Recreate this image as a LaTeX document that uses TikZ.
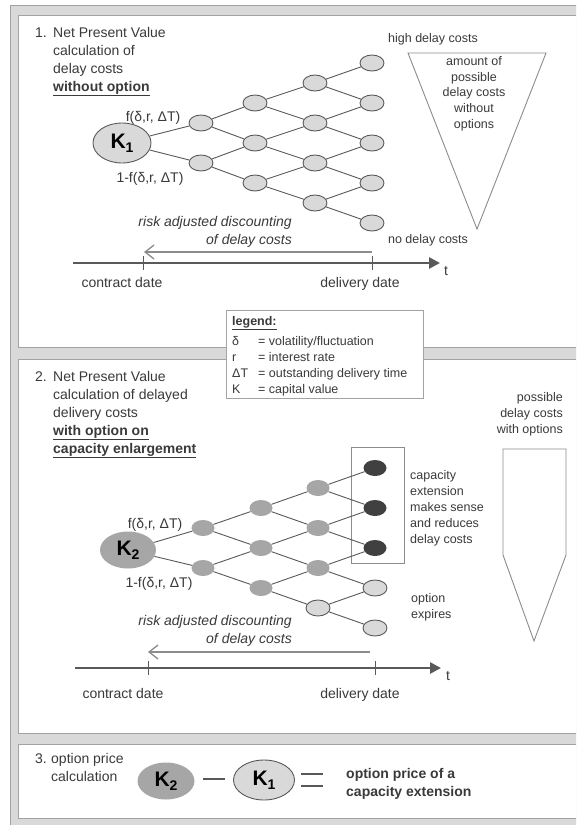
\documentclass[tikz,border=0pt]{standalone}
\usepackage{fontspec}
\setmainfont{Liberation Sans}
\usetikzlibrary{shapes.geometric,arrows.meta}
\definecolor{txtc}{HTML}{3A3A3A}
\definecolor{lineg}{HTML}{595959}
\definecolor{lightg}{HTML}{D9D9D9}
\definecolor{midg}{HTML}{A6A6A6}
\definecolor{darkg}{HTML}{404040}
\definecolor{frameg}{HTML}{D9D9D9}
\definecolor{frameb}{HTML}{A3A3A3}
\definecolor{shapeg}{HTML}{8C8C8C}
\begin{document}
\begin{tikzpicture}[x=1pt,y=-1pt,
  txt/.style={font=\fontsize{14}{17}\selectfont, text=txtc, inner sep=0pt},
  stxt/.style={font=\fontsize{12.5}{15}\selectfont, text=txtc, inner sep=0pt},
  lnode/.style={ellipse, fill=lightg, draw=lineg, line width=0.9pt, minimum width=24pt, minimum height=16pt, inner sep=0pt},
  mnode/.style={ellipse, fill=midg, draw=none, minimum width=23pt, minimum height=16pt, inner sep=0pt},
  dnode/.style={ellipse, fill=darkg, draw=none, minimum width=23pt, minimum height=16pt, inner sep=0pt},
  bigK/.style={ellipse, inner sep=0pt, text=black, font=\fontsize{21}{21}\selectfont\bfseries},
  tline/.style={draw=lineg, line width=0.9pt},
  axis/.style={draw=lineg, line width=2.6pt, -{Triangle[length=11pt,width=11pt]}},
  tick/.style={draw=lineg, line width=0.9pt},
  disc/.style={draw=shapeg, line width=1.8pt, -{Straight Barb[length=9pt,width=14pt,line width=1.3pt]}},
  outl/.style={draw=shapeg, line width=0.9pt},
  panel/.style={fill=white, draw=frameb, line width=1pt}
]
\useasboundingbox (0,0) rectangle (576,825);
\clip (0,0) rectangle (576,825);
\fill[white] (0,0) rectangle (576,825);
\draw[fill=frameg, draw=frameb, line width=1pt] (10,5) rectangle (610,840);
\draw[panel] (18,15) rectangle (610,347);
\draw[panel] (18,359) rectangle (610,733);
\draw[panel] (18,744) rectangle (610,818);

% ---------------- Panel 1 ----------------
\node[txt, anchor=base west] (p1n) at (35,37) {1.};
\node[txt, anchor=base west] (p1a) at (53,37) {Net Present Value};
\node[txt, anchor=base west] (p1b) at (53,55) {calculation of};
\node[txt, anchor=base west] (p1c) at (53,73) {delay costs};
\node[txt, anchor=base west] (p1d) at (53,91) {\underline{\textbf{without option}}};

\node[bigK, fill=lightg, draw=lineg, line width=0.9pt, minimum width=58pt, minimum height=40pt] (K1) at (122,143) {K\raisebox{-0.35ex}{\fontsize{14}{14}\selectfont 1}};
\foreach \i/\x in {1/201,2/255,3/315,4/372} {
  \foreach \j in {0,...,\i} {
    \node[lnode] (a\i\j) at (\x,{143-20*\i+40*\j}) {};
  }
}
\draw[tline] (K1) -- (a10);
\draw[tline] (K1) -- (a11);
\foreach \i in {1,2,3} {
  \pgfmathtruncatemacro\k{\i+1}
  \foreach \j in {0,...,\i} {
    \pgfmathtruncatemacro\jj{\j+1}
    \draw[tline] (a\i\j) -- (a\k\j);
    \draw[tline] (a\i\j) -- (a\k\jj);
  }
}
\node[txt, anchor=base] (f1u) at (153,121.5) {f(δ,r, ΔT)};
\node[txt, anchor=base] (f1d) at (150,182.5) {1-f(δ,r, ΔT)};

\node[stxt, anchor=base] (hdc) at (433,42) {high delay costs};
\draw[outl] (408,53) -- (546,53) -- (477,229) -- cycle;
\node[stxt, anchor=base] (tr1) at (474,65) {amount of};
\node[stxt, anchor=base] (tr2) at (474,81) {possible};
\node[stxt, anchor=base] (tr3) at (474,96.5) {delay costs};
\node[stxt, anchor=base] (tr4) at (474,112) {without};
\node[stxt, anchor=base] (tr5) at (474,128) {options};
\node[stxt, anchor=base] (ndc) at (428,243) {no delay costs};

\node[txt, anchor=base east, font=\fontsize{14}{17}\selectfont\itshape] (r1a) at (292,226) {risk adjusted discounting};
\node[txt, anchor=base east, font=\fontsize{14}{17}\selectfont\itshape] (r1b) at (292,244) {of delay costs};
\coordinate (d1s) at (372,252);
\coordinate (d1e) at (144,252);
\draw[disc] (d1s) -- (d1e);
\coordinate (ax1s) at (73,263);
\coordinate (ax1e) at (440,263);
\draw[axis] (ax1s) -- (ax1e);
\coordinate (tk1a) at (143,256); \coordinate (tk1b) at (143,270);
\coordinate (tk1c) at (372,256); \coordinate (tk1d) at (372,270);
\draw[tick] (tk1a) -- (tk1b);
\draw[tick] (tk1c) -- (tk1d);
\node[txt, anchor=base] (t1) at (446,275) {t};
\node[txt, anchor=base] (cd1) at (122,287) {contract date};
\node[txt, anchor=base] (dd1) at (360,287) {delivery date};

% ---------------- Legend ----------------
\draw[fill=white, draw=frameb, line width=1pt] (226,310) rectangle (423,398);
\node[stxt, anchor=base west] (lg) at (232,325) {\underline{\textbf{legend:}}};
\node[stxt, anchor=base west] (lg1s) at (232,345) {δ};
\node[stxt, anchor=base west] (lg1t) at (258,345) {= volatility/fluctuation};
\node[stxt, anchor=base west] (lg2s) at (232,361) {r};
\node[stxt, anchor=base west] (lg2t) at (258,361) {= interest rate};
\node[stxt, anchor=base west] (lg3s) at (232,377) {ΔT};
\node[stxt, anchor=base west] (lg3t) at (258,377) {= outstanding delivery time};
\node[stxt, anchor=base west] (lg4s) at (232,393) {K};
\node[stxt, anchor=base west] (lg4t) at (258,393) {= capital value};

% ---------------- Panel 2 ----------------
\node[txt, anchor=base west] (p2n) at (35,381) {2.};
\node[txt, anchor=base west] (p2a) at (53,381) {Net Present Value};
\node[txt, anchor=base west] (p2b) at (53,399) {calculation of delayed};
\node[txt, anchor=base west] (p2c) at (53,417) {delivery costs};
\node[txt, anchor=base west] (p2d) at (53,435) {\underline{\textbf{with option on}}};
\node[txt, anchor=base west] (p2e) at (53,453) {\underline{\textbf{capacity enlargement}}};

\node[stxt, anchor=base east] (pw1) at (563,401) {possible};
\node[stxt, anchor=base east] (pw2) at (563,417) {delay costs};
\node[stxt, anchor=base east] (pw3) at (563,433) {with options};
\draw[outl] (503,449) -- (566,449) -- (566,555) -- (534,641) -- (503,555) -- cycle;

\draw[outl] (351,447) rectangle (404,563);

\node[bigK, fill=midg, minimum width=56pt, minimum height=37pt] (K2) at (128,550) {K\raisebox{-0.35ex}{\fontsize{14}{14}\selectfont 2}};
\foreach \n/\x/\y/\s in {10/203/528/mnode, 11/203/568/mnode,
  20/261/508/mnode, 21/261/548/mnode, 22/261/588/mnode,
  30/318/488/mnode, 31/318/528/mnode, 32/318/568/mnode, 33/318/608/lnode,
  40/375/468/dnode, 41/375/508/dnode, 42/375/548/dnode, 43/375/588/lnode, 44/375/628/lnode} {
  \node[\s] (b\n) at (\x,\y) {};
}
\draw[tline] (K2) -- (b10);
\draw[tline] (K2) -- (b11);
\foreach \i in {1,2,3} {
  \pgfmathtruncatemacro\k{\i+1}
  \foreach \j in {0,...,\i} {
    \pgfmathtruncatemacro\jj{\j+1}
    \draw[tline] (b\i\j) -- (b\k\j);
    \draw[tline] (b\i\j) -- (b\k\jj);
  }
}
\node[txt, anchor=base] (f2u) at (155,528.5) {f(δ,r, ΔT)};
\node[txt, anchor=base] (f2d) at (159,587.5) {1-f(δ,r, ΔT)};

\node[stxt, anchor=base west] (ce1) at (410,479) {capacity};
\node[stxt, anchor=base west] (ce2) at (410,495) {extension};
\node[stxt, anchor=base west] (ce3) at (410,511) {makes sense};
\node[stxt, anchor=base west] (ce4) at (410,527) {and reduces};
\node[stxt, anchor=base west] (ce5) at (410,543) {delay costs};
\node[stxt, anchor=base west] (oe1) at (411,602) {option};
\node[stxt, anchor=base west] (oe2) at (411,618) {expires};

\node[txt, anchor=base east, font=\fontsize{14}{17}\selectfont\itshape] (r2a) at (292,625) {risk adjusted discounting};
\node[txt, anchor=base east, font=\fontsize{14}{17}\selectfont\itshape] (r2b) at (292,643) {of delay costs};
\coordinate (d2s) at (370,652);
\coordinate (d2e) at (148,652);
\draw[disc] (d2s) -- (d2e);
\coordinate (ax2s) at (75,668);
\coordinate (ax2e) at (441,668);
\draw[axis] (ax2s) -- (ax2e);
\coordinate (tk2a) at (148,661); \coordinate (tk2b) at (148,675);
\coordinate (tk2c) at (375,661); \coordinate (tk2d) at (375,675);
\draw[tick] (tk2a) -- (tk2b);
\draw[tick] (tk2c) -- (tk2d);
\node[txt, anchor=base] (t2) at (448,680) {t};
\node[txt, anchor=base] (cd2) at (123,698) {contract date};
\node[txt, anchor=base] (dd2) at (360,698) {delivery date};

% ---------------- Panel 3 ----------------
\node[txt, anchor=base west] (p3n) at (35,763) {3.};
\node[txt, anchor=base west] (p3a) at (51,763) {option price};
\node[txt, anchor=base west] (p3b) at (51,781) {calculation};
\node[bigK, fill=midg, minimum width=57pt, minimum height=37pt] (K2b) at (166,781) {K\raisebox{-0.35ex}{\fontsize{14}{14}\selectfont 2}};
\node[bigK, fill=lightg, draw=lineg, line width=0.9pt, minimum width=61pt, minimum height=40pt] (K1b) at (264,780) {K\raisebox{-0.35ex}{\fontsize{14}{14}\selectfont 1}};
\coordinate (mi1) at (203,779); \coordinate (mi2) at (225,779);
\draw[draw=lineg, line width=2pt] (mi1) -- (mi2);
\coordinate (eq1) at (301,774); \coordinate (eq2) at (323,774);
\coordinate (eq3) at (301,786); \coordinate (eq4) at (323,786);
\draw[draw=lineg, line width=2pt] (eq1) -- (eq2);
\draw[draw=lineg, line width=2pt] (eq3) -- (eq4);
\node[txt, anchor=base west, font=\fontsize{14}{17}\selectfont\bfseries] (op1) at (346,778) {option price of a};
\node[txt, anchor=base west, font=\fontsize{14}{17}\selectfont\bfseries] (op2) at (346,796) {capacity extension};
\end{tikzpicture}
\end{document}
